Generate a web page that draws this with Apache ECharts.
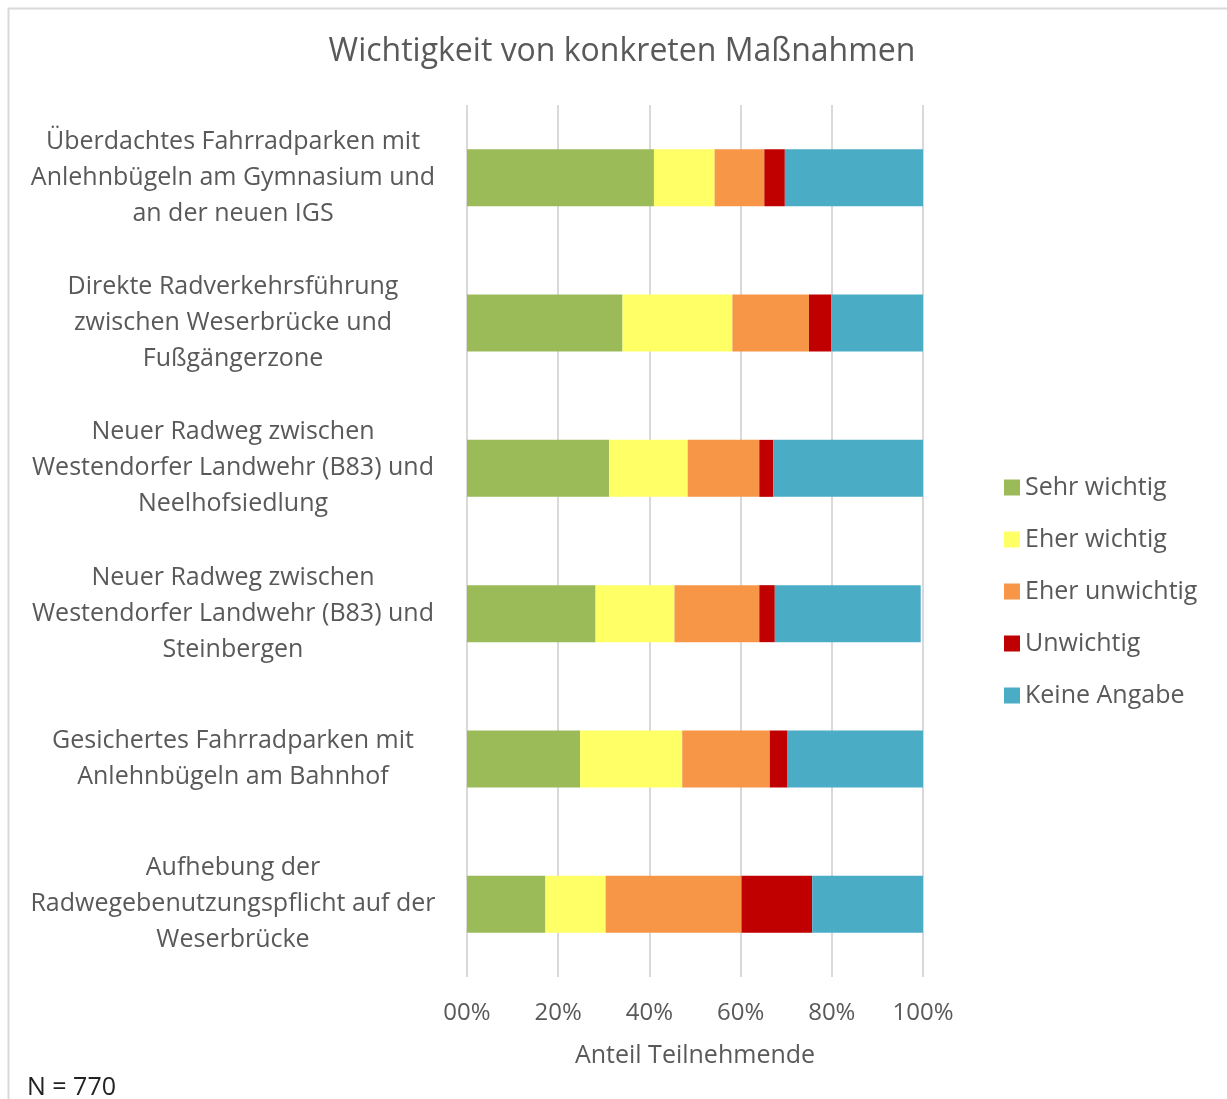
<!DOCTYPE html>
<html>
<head>
<meta charset="utf-8">
<script src="https://cdn.jsdelivr.net/npm/echarts@6/dist/echarts.min.js"></script>
<style>
html,body{margin:0;padding:0;background:#fff;}
#chart{width:1227px;height:1099px;}
</style>
</head>
<body>
<div id="chart"></div>
<script>
const categories = [
  "Überdachtes Fahrradparken mit\nAnlehnbügeln am Gymnasium und\nan der neuen IGS",
  "Direkte Radverkehrsführung\nzwischen Weserbrücke und\nFußgängerzone",
  "Neuer Radweg zwischen\nWestendorfer Landwehr (B83) und\nNeelhofsiedlung",
  "Neuer Radweg zwischen\nWestendorfer Landwehr (B83) und\nSteinbergen",
  "Gesichertes Fahrradparken mit\nAnlehnbügeln am Bahnhof",
  "Aufhebung der\nRadwegebenutzungspflicht auf der\nWeserbrücke"
];
const seriesNames = ["Sehr wichtig", "Eher wichtig", "Eher unwichtig", "Unwichtig", "Keine Angabe"];
const sehrWichtig   = [41.0, 34.1, 31.2, 28.2, 24.8, 17.2];
const eherWichtig   = [13.3, 24.1, 17.2, 17.3, 22.4, 13.2];
const eherUnwichtig = [10.9, 16.8, 15.7, 18.6, 19.2, 29.8];
const unwichtig     = [4.5, 4.9, 3.1, 3.4, 3.9, 15.5];
const keineAngabe   = [30.3, 20.1, 32.8, 32.0, 30.0, 24.3];
const xTickLabels = ["00%", "20%", "40%", "60%", "80%", "100%"];

const colors = ["#9BBB59", "#FFFF66", "#F79646", "#C00000", "#4BACC6"];
const values = [sehrWichtig, eherWichtig, eherUnwichtig, unwichtig, keineAngabe];
const FONT = "Open Sans";
const TXT = "#595959";

const chart = echarts.init(document.getElementById('chart'));
chart.setOption({
  animation: false,
  backgroundColor: '#fff',
  textStyle: { fontFamily: FONT },
  color: colors,
  title: {
    text: "Wichtigkeit von konkreten Maßnahmen",
    left: 617, top: 31, textAlign: 'center',
    textStyle: { fontFamily: FONT, fontSize: 32, fontWeight: 'normal', color: TXT }
  },
  legend: {
    orient: 'vertical',
    left: 999, top: 470,
    itemWidth: 16, itemHeight: 16, itemGap: 27, itemTextGap: 7,
    icon: 'rect',
    data: seriesNames,
    textStyle: { fontFamily: FONT, fontSize: 25, color: TXT }
  },
  grid: { left: 467, right: 304, top: 105, bottom: 122, containLabel: false },
  xAxis: {
    type: 'value', min: 0, max: 100, interval: 20,
    name: "Anteil Teilnehmende", nameLocation: 'middle', nameGap: 66,
    nameTextStyle: { fontFamily: FONT, fontSize: 25, color: TXT },
    axisLine: { show: false }, axisTick: { show: false },
    axisLabel: {
      fontFamily: FONT, fontSize: 24, color: TXT, margin: 24,
      formatter: (v) => xTickLabels[Math.round(v / 20)]
    },
    splitLine: { show: true, lineStyle: { color: '#d9d9d9', width: 2 } }
  },
  yAxis: {
    type: 'category', inverse: true, data: categories,
    axisLine: { show: false }, axisTick: { show: false },
    axisLabel: {
      fontFamily: FONT, fontSize: 25, lineHeight: 36, color: TXT,
      align: 'center', margin: 234
    }
  },
  series: seriesNames.map((n, i) => ({
    name: n, type: 'bar', stack: 'total', barWidth: 57,
    data: values[i],
    itemStyle: { color: colors[i] }
  })),
  graphic: [
    { type: 'rect', left: 6, top: 6, shape: { width: 1400, height: 1300 }, silent: true, z: -10,
      style: { fill: 'none', stroke: '#d9d9d9', lineWidth: 2 } },
    { type: 'text', left: 27, top: 1075,
      style: { text: "N = 770", font: "25px '" + FONT + "'", fill: '#222' } }
  ]
});
</script>
</body>
</html>
